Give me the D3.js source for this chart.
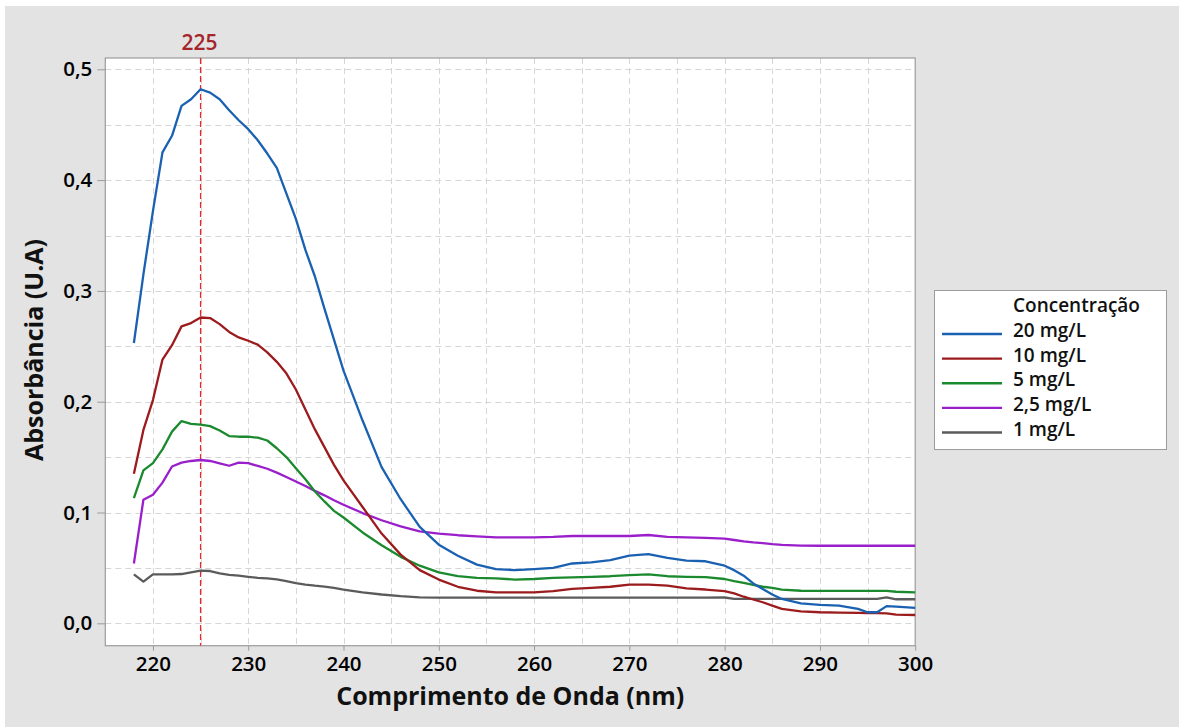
<!DOCTYPE html>
<html>
<head>
<meta charset="utf-8">
<script src="https://cdn.jsdelivr.net/npm/d3@7"></script>
<style>
  html, body { margin: 0; padding: 0; background: #ffffff; }
  svg { display: block; }
  text { font-family: "Open Sans", "Noto Sans", sans-serif; }
</style>
</head>
<body>
<svg id="chart" width="1179" height="727"></svg>
<script>
// Wavelength grid (nm) shared by every spectrum
const wavelengths = [218, 219, 220, 221, 222, 223, 224, 225, 226, 227, 228, 229, 230, 231, 232, 233, 234, 235, 236, 237, 238, 239, 240,
  242, 244, 246, 248, 250, 252, 254, 256, 258, 260, 262, 264, 266, 268, 270, 272, 274, 276, 278, 280,
  281, 282, 283, 284, 285, 286, 288, 290, 292, 294, 295, 296, 297, 298, 300];

// Absorbance (U.A) for each concentration
const abs20 = [0.253, 0.315, 0.372, 0.425, 0.440, 0.467, 0.473, 0.482, 0.479, 0.473, 0.463, 0.454, 0.446, 0.436, 0.424, 0.411, 0.388, 0.365, 0.337, 0.313, 0.284, 0.256, 0.228,
  0.183, 0.141, 0.112, 0.087, 0.071, 0.061, 0.053, 0.049, 0.048, 0.049, 0.050, 0.054, 0.055, 0.057, 0.061, 0.0625, 0.059, 0.0565, 0.056, 0.052,
  0.048, 0.043, 0.036, 0.031, 0.026, 0.022, 0.018, 0.0167, 0.016, 0.013, 0.010, 0.010, 0.0155, 0.015, 0.014];
const abs10 = [0.135, 0.1745, 0.2015, 0.238, 0.251, 0.268, 0.271, 0.276, 0.2755, 0.270, 0.263, 0.258, 0.255, 0.2515, 0.2445, 0.236, 0.2256, 0.211, 0.193, 0.175, 0.159, 0.143, 0.129,
  0.105, 0.081, 0.062, 0.048, 0.0395, 0.033, 0.0294, 0.028, 0.028, 0.028, 0.029, 0.031, 0.032, 0.033, 0.035, 0.035, 0.034, 0.0315, 0.0305, 0.029,
  0.027, 0.024, 0.0215, 0.019, 0.016, 0.013, 0.0108, 0.010, 0.0097, 0.0095, 0.0093, 0.0092, 0.009, 0.0078, 0.0075];
const abs5 = [0.113, 0.138, 0.1445, 0.157, 0.173, 0.1825, 0.180, 0.1793, 0.178, 0.174, 0.169, 0.1684, 0.1684, 0.1675, 0.165, 0.158, 0.150, 0.140, 0.130, 0.119, 0.110, 0.1015, 0.0955,
  0.082, 0.0705, 0.060, 0.052, 0.046, 0.0425, 0.041, 0.0406, 0.0395, 0.040, 0.041, 0.0415, 0.042, 0.0425, 0.0435, 0.0442, 0.0425, 0.042, 0.0417, 0.040,
  0.038, 0.0365, 0.0346, 0.033, 0.032, 0.0305, 0.0294, 0.0293, 0.0293, 0.0293, 0.0292, 0.0292, 0.0292, 0.0285, 0.028];
const abs2_5 = [0.054, 0.1115, 0.116, 0.127, 0.1415, 0.145, 0.1465, 0.1474, 0.1465, 0.1444, 0.1422, 0.145, 0.1445, 0.142, 0.1395, 0.136, 0.132, 0.128, 0.124, 0.1195, 0.1155, 0.111, 0.107,
  0.0995, 0.093, 0.0875, 0.083, 0.081, 0.0795, 0.0785, 0.0776, 0.0776, 0.0776, 0.078, 0.0788, 0.0788, 0.0788, 0.0788, 0.0797, 0.078, 0.0776, 0.0772, 0.0765,
  0.0752, 0.074, 0.073, 0.0724, 0.0715, 0.0708, 0.0702, 0.070, 0.070, 0.070, 0.070, 0.070, 0.070, 0.070, 0.070];
const abs1 = [0.0442, 0.0376, 0.0442, 0.0442, 0.0442, 0.0445, 0.046, 0.0475, 0.0472, 0.045, 0.0438, 0.043, 0.042, 0.041, 0.0405, 0.0397, 0.038, 0.0362, 0.035, 0.034, 0.0332, 0.032, 0.0305,
  0.028, 0.026, 0.0245, 0.0235, 0.0231, 0.0231, 0.0231, 0.0231, 0.0231, 0.0231, 0.0231, 0.0231, 0.0231, 0.0231, 0.0231, 0.0231, 0.0231, 0.0231, 0.0231, 0.0233,
  0.022, 0.022, 0.022, 0.022, 0.022, 0.022, 0.022, 0.022, 0.022, 0.022, 0.022, 0.022, 0.0235, 0.0217, 0.0217];

const seriesNames = ["20 mg/L", "10 mg/L", "5 mg/L", "2,5 mg/L", "1 mg/L"];
const seriesValues = [abs20, abs10, abs5, abs2_5, abs1];
const seriesColors = ["#1a61b2", "#9c1b1d", "#1b8a2e", "#9a1fcb", "#5b5b5b"];

const xTicks = [220, 230, 240, 250, 260, 270, 280, 290, 300];
const yTicks = [0.0, 0.1, 0.2, 0.3, 0.4, 0.5];
const peakWavelength = 225;
const legendTitle = "Concentração";
const xTitle = "Comprimento de Onda (nm)";
const yTitle = "Absorbância (U.A)";

const svg = d3.select("#chart");
const W = 1179, H = 727;

// Panel background
svg.append("rect").attr("x", 5).attr("y", 6).attr("width", W - 5).attr("height", H - 6).attr("fill", "#e3e3e3");

const plot = { left: 105.3, right: 915.2, top: 58, bottom: 645.7 };
const x = d3.scaleLinear().domain([215, 300]).range([plot.left, plot.right]);
const y = d3.scaleLinear().domain([-0.0202, 0.5102]).range([plot.bottom, plot.top]);

// Plot area
svg.append("rect")
  .attr("x", plot.left).attr("y", plot.top)
  .attr("width", plot.right - plot.left).attr("height", plot.bottom - plot.top)
  .attr("fill", "#ffffff");

// Dashed grid: every 5 nm and every 0.05 U.A
const grid = svg.append("g").attr("stroke", "#d6d6d6").attr("stroke-width", 1).attr("stroke-dasharray", "6,4");
d3.range(220, 300, 5).forEach(v => {
  grid.append("line").attr("x1", Math.round(x(v)) + 0.5).attr("x2", Math.round(x(v)) + 0.5)
    .attr("y1", plot.top).attr("y2", plot.bottom);
});
d3.range(0, 0.51, 0.05).forEach(v => {
  grid.append("line").attr("y1", Math.round(y(v)) + 0.5).attr("y2", Math.round(y(v)) + 0.5)
    .attr("x1", plot.left).attr("x2", plot.right);
});

// Axes
const xAxis = d3.axisBottom(x).tickValues(xTicks).tickSize(5).tickPadding(6).tickFormat(d3.format("d"));
const yAxis = d3.axisLeft(y).tickValues(yTicks).tickSize(8).tickPadding(5)
  .tickFormat(d => d3.format(".1f")(d).replace(".", ","));

const gx = svg.append("g").attr("transform", `translate(0,${plot.bottom})`).call(xAxis);
const gy = svg.append("g").attr("transform", `translate(${plot.left},0)`).call(yAxis);
[gx, gy].forEach(g => {
  g.select(".domain").remove();
  g.selectAll(".tick line").attr("stroke", "#9a9a9a");
  g.selectAll(".tick text").attr("fill", "#000").style("font-size", "20.5px")
    .style("font-weight", 600).style("font-family", "'Open Sans', sans-serif");
});

// Frame
svg.append("rect")
  .attr("x", plot.left).attr("y", plot.top)
  .attr("width", plot.right - plot.left).attr("height", plot.bottom - plot.top)
  .attr("fill", "none").attr("stroke", "#9c9c9c").attr("stroke-width", 1.2);

// Reference line at the absorption peak
svg.append("line")
  .attr("x1", x(peakWavelength)).attr("x2", x(peakWavelength))
  .attr("y1", plot.top).attr("y2", plot.bottom)
  .attr("stroke", "#e8272b").attr("stroke-width", 1.3).attr("stroke-dasharray", "6,3");
svg.append("text")
  .attr("x", x(peakWavelength) - 1).attr("y", 50)
  .attr("text-anchor", "middle")
  .attr("fill", "#a4262b").style("font-size", "21px").style("font-weight", 600)
  .text(String(peakWavelength));

// Spectra
const line = d3.line().x(d => x(d[0])).y(d => y(d[1]));
seriesValues.slice().reverse().forEach((vals, ri) => {
  const i = seriesValues.length - 1 - ri;
  svg.append("path")
    .datum(wavelengths.map((w, k) => [w, vals[k]]))
    .attr("d", line)
    .attr("fill", "none")
    .attr("stroke", seriesColors[i])
    .attr("stroke-width", 2.3)
    .attr("stroke-linejoin", "round");
});

// Axis titles
svg.append("text")
  .attr("x", (plot.left + plot.right) / 2).attr("y", 705)
  .attr("text-anchor", "middle").attr("fill", "#111")
  .style("font-size", "25px").style("font-weight", 700)
  .text(xTitle);
svg.append("text")
  .attr("transform", `translate(43,350) rotate(-90)`)
  .attr("text-anchor", "middle").attr("fill", "#111")
  .style("font-size", "25px").style("font-weight", 700)
  .text(yTitle);

// Legend
const lg = svg.append("g");
lg.append("rect").attr("x", 934.5).attr("y", 290.5).attr("width", 232).attr("height", 159)
  .attr("fill", "#ffffff").attr("stroke", "#9c9c9c").attr("stroke-width", 1);
lg.append("text").attr("x", 1013).attr("y", 312).attr("fill", "#111")
  .style("font-size", "19px").style("font-weight", 600).text(legendTitle);
const rowY = d3.scalePoint().domain(seriesNames).range([336.5, 435]);
seriesNames.forEach((name, i) => {
  const cy = rowY(name);
  lg.append("line").attr("x1", 942).attr("x2", 1002).attr("y1", cy - 2.5).attr("y2", cy - 2.5)
    .attr("stroke", seriesColors[i]).attr("stroke-width", 2.3);
  lg.append("text").attr("x", 1013).attr("y", cy + 0.5).attr("fill", "#111")
    .style("font-size", "19px").style("font-weight", 600).text(name);
});
</script>
</body>
</html>
